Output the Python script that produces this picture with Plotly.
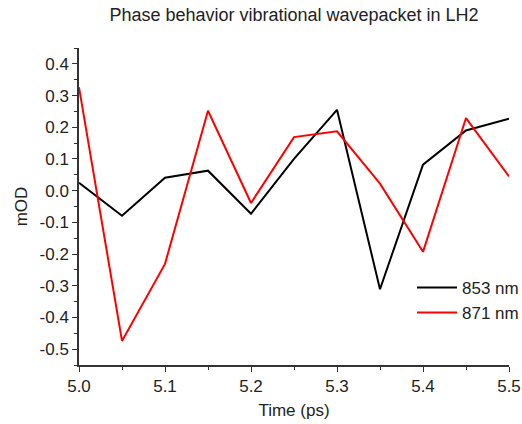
import plotly.graph_objects as go

time_ps = [5.0, 5.05, 5.1, 5.15, 5.2, 5.25, 5.3, 5.35, 5.4, 5.45, 5.5]
mod_853 = [0.025, -0.079, 0.041, 0.063, -0.073, 0.100, 0.255, -0.311, 0.082, 0.190, 0.227]
mod_871 = [0.326, -0.474, -0.231, 0.252, -0.039, 0.169, 0.187, 0.022, -0.193, 0.229, 0.045]
series_names = ["853 nm", "871 nm"]
x_ticks = [5.0, 5.1, 5.2, 5.3, 5.4, 5.5]
x_tick_labels = ["5.0", "5.1", "5.2", "5.3", "5.4", "5.5"]
y_ticks = [-0.5, -0.4, -0.3, -0.2, -0.1, 0.0, 0.1, 0.2, 0.3, 0.4]
y_tick_labels = ["-0.5", "-0.4", "-0.3", "-0.2", "-0.1", "0.0", "0.1", "0.2", "0.3", "0.4"]

FONT = "Liberation Sans, Arial, sans-serif"
TXT = "#222222"

fig = go.Figure()
fig.add_trace(go.Scatter(x=time_ps, y=mod_853, mode="lines", name=series_names[0],
                         line=dict(color="#000000", width=2)))
fig.add_trace(go.Scatter(x=time_ps, y=mod_871, mode="lines", name=series_names[1],
                         line=dict(color="#ff0000", width=2)))

axis_common = dict(showgrid=False, zeroline=False, showline=True, linecolor="#333333",
                   linewidth=1.5, ticks="outside", ticklen=5, tickwidth=1.2,
                   tickcolor="#333333", tickfont=dict(family=FONT, size=17, color=TXT),
                   mirror=False, automargin=False)

fig.update_layout(
    width=522, height=424,
    margin=dict(l=79, r=13, t=48, b=59, autoexpand=False),
    paper_bgcolor="white", plot_bgcolor="white",
    title=dict(text="Phase behavior vibrational wavepacket in LH2",
               font=dict(family=FONT, size=18, color=TXT),
               x=(79 + 215) / 522, xanchor="center", y=1 - 15 / 424, yanchor="middle"),
    xaxis=dict(range=[5.0, 5.5], tickvals=x_ticks, ticktext=x_tick_labels,
               minor=dict(dtick=0.05, tick0=5.0, ticks="outside", ticklen=3, tickcolor="#333333"),
               title=dict(text="Time (ps)", font=dict(family=FONT, size=17, color=TXT), standoff=9),
               **axis_common),
    yaxis=dict(range=[-0.55, 0.45], tickvals=y_ticks, ticktext=y_tick_labels,
               minor=dict(dtick=0.05, tick0=0.0, ticks="outside", ticklen=3, tickcolor="#333333"),
               title=dict(text="mOD", font=dict(family=FONT, size=17, color=TXT), standoff=8),
               **axis_common),
    legend=dict(x=0.7744, y=0.30, xanchor="left", yanchor="top", bgcolor="rgba(0,0,0,0)",
                font=dict(family=FONT, size=17, color=TXT), itemwidth=40,
                tracegroupgap=0),
    showlegend=True,
)

fig.write_html("out.html")
